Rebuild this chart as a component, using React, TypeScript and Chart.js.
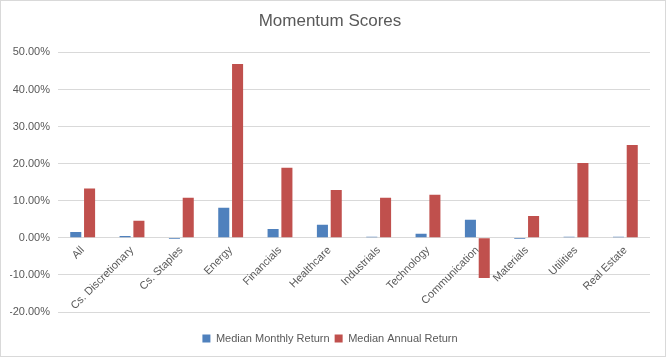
import React, { useEffect, useRef } from "react";
import { Chart, registerables } from "chart.js";

Chart.register(...registerables);

const categories = [
  "All",
  "Cs. Discretionary",
  "Cs. Staples",
  "Energy",
  "Financials",
  "Healthcare",
  "Industrials",
  "Technology",
  "Communication",
  "Materials",
  "Utilities",
  "Real Estate",
];
const monthlyReturn = [1.6, 0.5, -0.3, 8.1, 2.4, 3.5, 0.3, 1.1, 4.9, -0.3, 0.3, 0.3];
const annualReturn = [13.3, 4.6, 10.8, 46.9, 18.9, 12.9, 10.8, 11.6, -10.8, 5.9, 20.2, 25.0];
const seriesNames = ["Median Monthly Return", "Median Annual Return"];
const yMin = -20;
const yMax = 50;
const yStep = 10;

const FONT = "'Liberation Sans', Arial, sans-serif";
const TXT = "#595959";

export default function App() {
  const ref = useRef<HTMLCanvasElement | null>(null);
  useEffect(() => {
    if (!ref.current) return;
    const chart = new Chart(ref.current, {
      type: "bar",
      data: {
        labels: categories,
        datasets: [
          {
            label: seriesNames[0],
            data: monthlyReturn,
            backgroundColor: "#4f81bd",
            categoryPercentage: 0.56,
            barPercentage: 0.8,
          },
          {
            label: seriesNames[1],
            data: annualReturn,
            backgroundColor: "#c0504d",
            categoryPercentage: 0.56,
            barPercentage: 0.8,
          },
        ],
      },
      options: {
        animation: false,
        responsive: false,
        maintainAspectRatio: false,
        layout: { padding: { left: 9, right: 15, top: 0, bottom: 2 } },
        plugins: {
          title: {
            display: true,
            text: "Momentum Scores",
            color: TXT,
            font: { family: FONT, size: 17, weight: "normal" },
            padding: { top: 10, bottom: 21 },
          },
          legend: {
            position: "bottom",
            title: {
              display: true,
              text: "",
              font: { family: FONT, size: 10 },
              padding: { top: 4, bottom: 0 },
            },
            labels: {
              color: TXT,
              font: { family: FONT, size: 11 },
              boxWidth: 8,
              boxHeight: 8,
              padding: 5,
            },
          },
          tooltip: { enabled: false },
        },
        scales: {
          x: {
            position: { y: 0 } as any,
            grid: { display: false },
            border: { display: false },
            afterFit: (s: any) => {
              s.paddingLeft = 0;
              s.paddingRight = 0;
              s.paddingTop = 0;
              s.paddingBottom = 0;
            },
            ticks: {
              color: TXT,
              font: { family: FONT, size: 11 },
              minRotation: 45,
              maxRotation: 45,
              autoSkip: false,
              padding: -2,
            },
          },
          y: {
            min: yMin,
            max: yMax,
            grid: { color: "#d9d9d9", drawTicks: false },
            border: { display: false },
            afterFit: (s: any) => {
              s.width = 48;
            },
            ticks: {
              stepSize: yStep,
              color: TXT,
              font: { family: FONT, size: 11 },
              padding: 8,
              callback: (v: any) => Number(v).toFixed(2) + "%",
            },
          },
        },
      },
    });
    return () => chart.destroy();
  }, []);
  return (
    <div
      style={{
        position: "fixed",
        left: 0,
        top: 0,
        width: 666,
        height: 357,
        boxSizing: "border-box",
        border: "1px solid #d9d9d9",
        background: "#fff",
      }}
    >
      <canvas ref={ref} width={664} height={355} style={{ display: "block" }} />
    </div>
  );
}
